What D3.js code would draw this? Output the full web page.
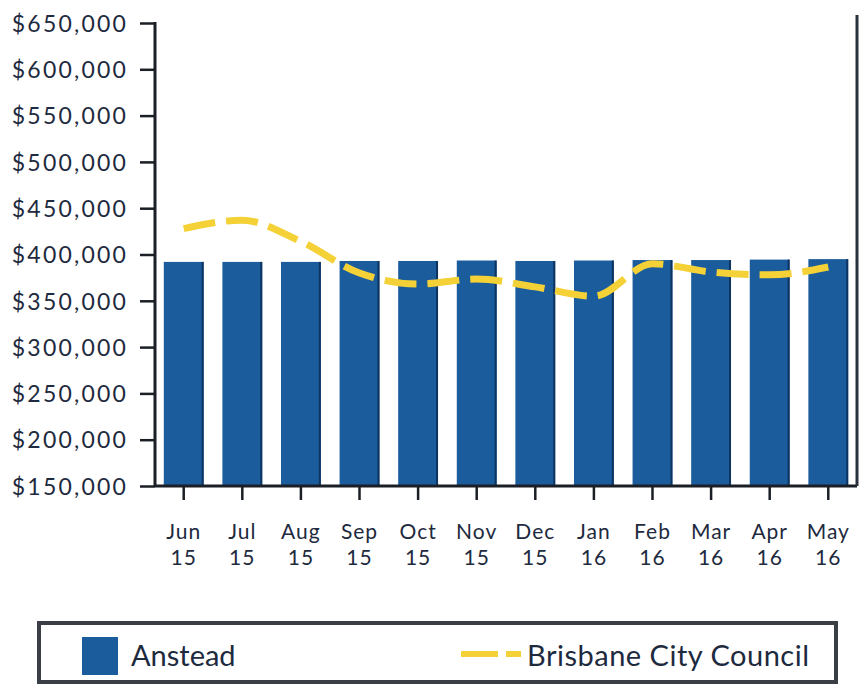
<!DOCTYPE html>
<html>
<head>
<meta charset="utf-8">
<script src="https://cdn.jsdelivr.net/npm/d3@7"></script>
<style>
  html, body { margin: 0; padding: 0; background: #ffffff; }
  svg { display: block; }
  text { font-family: Lato, "Open Sans", sans-serif; fill: #1e2a3e; }
</style>
</head>
<body>
<svg id="chart" width="860" height="685"></svg>
<script>
// ---- data ----
const months = ["Jun", "Jul", "Aug", "Sep", "Oct", "Nov", "Dec", "Jan", "Feb", "Mar", "Apr", "May"];
const years  = ["15", "15", "15", "15", "15", "15", "15", "16", "16", "16", "16", "16"];
const anstead = [392000, 392000, 392000, 393000, 393000, 393500, 393000, 393500, 394000, 394000, 394500, 395000];
const brisbane = [428000, 437000, 414000, 380000, 368000, 373500, 365000, 355000, 390000, 381000, 378000, 386500];
const yTicks = [150000, 200000, 250000, 300000, 350000, 400000, 450000, 500000, 550000, 600000, 650000];
const seriesNames = ["Anstead", "Brisbane City Council"];

const svg = d3.select("#chart");
const pLeft = 155, pRight = 857, pTop = 23, pBottom = 486;

const x = d3.scaleBand().domain(months.map((m, i) => i)).range([pLeft, pRight]).paddingInner(0.32).paddingOuter(0.15);
const y = d3.scaleLinear().domain([150000, 650000]).range([pBottom, pTop]);

// bars
const barColor = "#1b5c9d";
svg.append("g").selectAll("rect").data(anstead).join("rect")
  .attr("x", (d, i) => x(i))
  .attr("y", d => y(d))
  .attr("width", x.bandwidth())
  .attr("height", d => y(150000) - y(d))
  .attr("fill", barColor);
// darker right edge
svg.append("g").selectAll("rect").data(anstead).join("rect")
  .attr("x", (d, i) => x(i) + x.bandwidth() - 2)
  .attr("y", d => y(d))
  .attr("width", 2)
  .attr("height", d => y(150000) - y(d))
  .attr("fill", "#0e3560");

// line
const line = d3.line()
  .x((d, i) => x(i) + x.bandwidth() / 2)
  .y(d => y(d))
  .curve(d3.curveMonotoneX);
svg.append("path").datum(brisbane)
  .attr("d", line)
  .attr("fill", "none")
  .attr("stroke", "#f4d137")
  .attr("stroke-width", 7)
  .attr("stroke-dasharray", "32,11");

// y axis
const yAxis = d3.axisLeft(y).tickValues(yTicks).tickSize(15).tickSizeOuter(0)
  .tickFormat(d => "$" + d3.format(",")(d));
const gy = svg.append("g").attr("transform", `translate(${pLeft},0)`).call(yAxis);
gy.select(".domain").attr("stroke", "#1a1f26").attr("stroke-width", 3)
  .attr("d", `M0,${pTop - 1}V${pBottom + 1}`);
gy.selectAll(".tick line").attr("stroke", "#1a1f26").attr("stroke-width", 2.5);
gy.selectAll(".tick text")
  .attr("x", -27)
  .attr("dy", "0.36em")
  .style("font-size", "23px")
  .style("letter-spacing", "2.2px")
  .style("font-family", "Lato, sans-serif")
  .style("fill", "#1e2a3e");

// x axis
const xAxis = d3.axisBottom(x).tickSize(14).tickSizeOuter(0).tickFormat(() => "");
const gx = svg.append("g").attr("transform", `translate(0,${pBottom})`).call(xAxis);
gx.select(".domain").attr("stroke", "#1a1f26").attr("stroke-width", 3)
  .attr("d", `M${pLeft},0H${pRight}`);
gx.selectAll(".tick line").attr("stroke", "#1a1f26").attr("stroke-width", 2.5);
gx.selectAll(".tick").each(function(d, i) {
  const g = d3.select(this);
  g.append("text")
    .attr("text-anchor", "middle")
    .attr("x", 0).attr("y", 53)
    .style("font-size", "21px")
    .style("letter-spacing", "1px")
    .style("font-family", "Lato, sans-serif")
    .style("fill", "#1e2a3e")
    .text(months[i]);
  g.append("text")
    .attr("text-anchor", "middle")
    .attr("x", 0).attr("y", 79)
    .style("font-size", "21px")
    .style("letter-spacing", "1px")
    .style("font-family", "Lato, sans-serif")
    .style("fill", "#1e2a3e")
    .text(years[i]);
});

// right border line
svg.append("line").attr("x1", 857).attr("x2", 857).attr("y1", 15).attr("y2", pBottom)
  .attr("stroke", "#2a333d").attr("stroke-width", 3);

// legend
const lg = svg.append("g");
lg.append("rect").attr("x", 39).attr("y", 623).attr("width", 797).attr("height", 59)
  .attr("fill", "#ffffff").attr("stroke", "#3a3f45").attr("stroke-width", 4);
lg.append("rect").attr("x", 82).attr("y", 637).attr("width", 36).attr("height", 38)
  .attr("fill", barColor);
lg.append("text").attr("x", 131).attr("y", 666).style("font-size", "29px").text(seriesNames[0]);
lg.append("line").attr("x1", 461).attr("x2", 521).attr("y1", 654).attr("y2", 654)
  .attr("stroke", "#f4d137").attr("stroke-width", 6).attr("stroke-dasharray", "37,8");
lg.append("text").attr("x", 527).attr("y", 666).style("font-size", "29px")
  .style("letter-spacing", "0.5px").text(seriesNames[1]);
</script>
</body>
</html>
